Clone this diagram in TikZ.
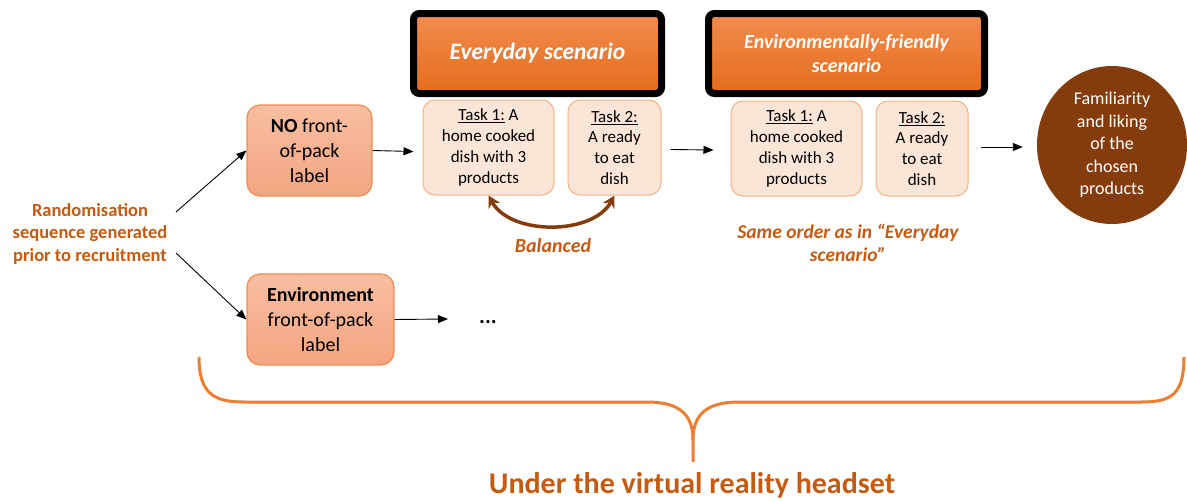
\documentclass[tikz,border=0pt]{standalone}
\usepackage{fontspec}
\setmainfont{Carlito}
\usetikzlibrary{arrows.meta,shapes.geometric,calc}
\definecolor{hdrtop}{HTML}{F28C4E}
\definecolor{hdrbot}{HTML}{E46C1C}
\definecolor{txtor}{HTML}{C55A11}
\definecolor{brace}{HTML}{ED7D31}
\definecolor{brownc}{HTML}{843C0C}
\definecolor{taskfill}{HTML}{FBE5D6}
\definecolor{taskline}{HTML}{F4B183}
\definecolor{lbltop}{HTML}{F8BEA2}
\definecolor{lblbot}{HTML}{F4A581}
\definecolor{lblline}{HTML}{F08C4F}
\tikzset{
  hdr/.style={draw=black, line width=7pt, rounded corners=6pt, top color=hdrtop, bottom color=hdrbot,
    text=white, font=\fontsize{23.5}{28}\selectfont\bfseries\itshape, align=center, inner sep=0pt},
  task/.style={draw=taskline, line width=1pt, fill=taskfill, rounded corners=12pt, align=center,
    font=\fontsize{17}{20.7}\selectfont, inner sep=0pt},
  lbl/.style={draw=lblline, line width=1.2pt, top color=lbltop, bottom color=lblbot, rounded corners=13pt,
    align=center, font=\fontsize{20}{24.8}\selectfont, inner sep=0pt},
  arr/.style={line width=0.9pt, -{Triangle[length=10pt,width=8pt]}},
  ortext/.style={text=txtor, align=center, font=\bfseries}
}
\begin{document}
\begin{tikzpicture}[x=1pt,y=-1pt]
\useasboundingbox (0,0) rectangle (1187,501);
% headers
\node[hdr, minimum width=248, minimum height=80] (hev) at (537.5,53.5) {Everyday scenario};
\node[hdr, minimum width=276, minimum height=80, font=\fontsize{20}{24}\selectfont\bfseries\itshape] (hen) at (846.5,53.5) {Environmentally-friendly\\scenario};
% tasks everyday
\node[task, minimum width=131, minimum height=95] (t1) at (488.5,147.5) {\underline{Task 1:} A\\home cooked\\dish with 3\\products};
\node[task, minimum width=93, minimum height=95] (t2) at (614.5,147.5) {\underline{Task 2:}\\A ready\\to eat\\dish};
% tasks env
\node[task, minimum width=131, minimum height=95] (u1) at (796.5,148.5) {\underline{Task 1:} A\\home cooked\\dish with 3\\products};
\node[task, minimum width=92, minimum height=95] (u2) at (922,148.5) {\underline{Task 2:}\\A ready\\to eat\\dish};
% circle
\node[ellipse, fill=brownc, minimum width=150, minimum height=158, inner sep=0pt, text=white, align=center,
  font=\fontsize{18}{22.5}\selectfont] (circ) at (1112,145) {Familiarity\\and liking\\of the\\chosen\\products};
% labels
\node[lbl, minimum width=125, minimum height=91] (nol) at (309.5,150.5) {\textbf{NO} front-\\of-pack\\label};
\node[lbl, minimum width=147, minimum height=91] (envl) at (320.5,319.5) {\textbf{Environment}\\front-of-pack\\label};
% randomisation
\node[ortext, font=\fontsize{18.5}{22.5}\selectfont\bfseries] (rand) at (90,233.5) {Randomisation\\sequence generated\\prior to recruitment};
\coordinate (r1) at (176,212);
\coordinate (r2) at (176,253);
\draw[arr] (r1) -- (nol.west);
\draw[arr] (r2) -- (envl.west);
\draw[arr] (nol.east) -- ($(t1.west)+(-9,4)$);
\node[font=\fontsize{22}{24}\selectfont\bfseries, inner sep=0pt] (dots) at (488,322) {...};
\draw[arr] (envl.east) -- ($(dots.west)+(-31,-3)$);
\draw[arr] ($(t2.east)+(9,2)$) -- ($(u1.west)+(-17,1.5)$);
\draw[arr] ($(u2.east)+(12,-1.5)$) -- ($(circ.west)+(-14,2)$);
% balanced
\draw[brownc, line width=3.5pt, {Stealth[length=12pt,width=13pt]}-{Stealth[length=12pt,width=13pt]}]
  (t1.south) .. controls +(22,40) and +(-22,40) .. (t2.south);
\node[text=txtor, font=\fontsize{20}{24}\selectfont\bfseries\itshape] (bal) at (553,246) {Balanced};
\node[text=txtor, align=center, font=\fontsize{19.5}{23}\selectfont\bfseries\itshape] (same) at (848,242.5) {Same order as in “Everyday\\scenario”};
% brace
\draw[brace, line width=3pt]
  (199,357) .. controls (199,395) and (215,402) .. (245,402) -- (647,402)
  .. controls (680,402) and (693,415) .. (693,440) -- (693,462);
\draw[brace, line width=3pt]
  (693,440) .. controls (693,415) and (706,402) .. (739,402) -- (1141,402)
  .. controls (1171,402) and (1184,395) .. (1184,357);
\node[text=txtor, font=\fontsize{30}{36}\selectfont\bfseries] (vr) at (692,485) {Under the virtual reality headset};
\end{tikzpicture}
\end{document}
